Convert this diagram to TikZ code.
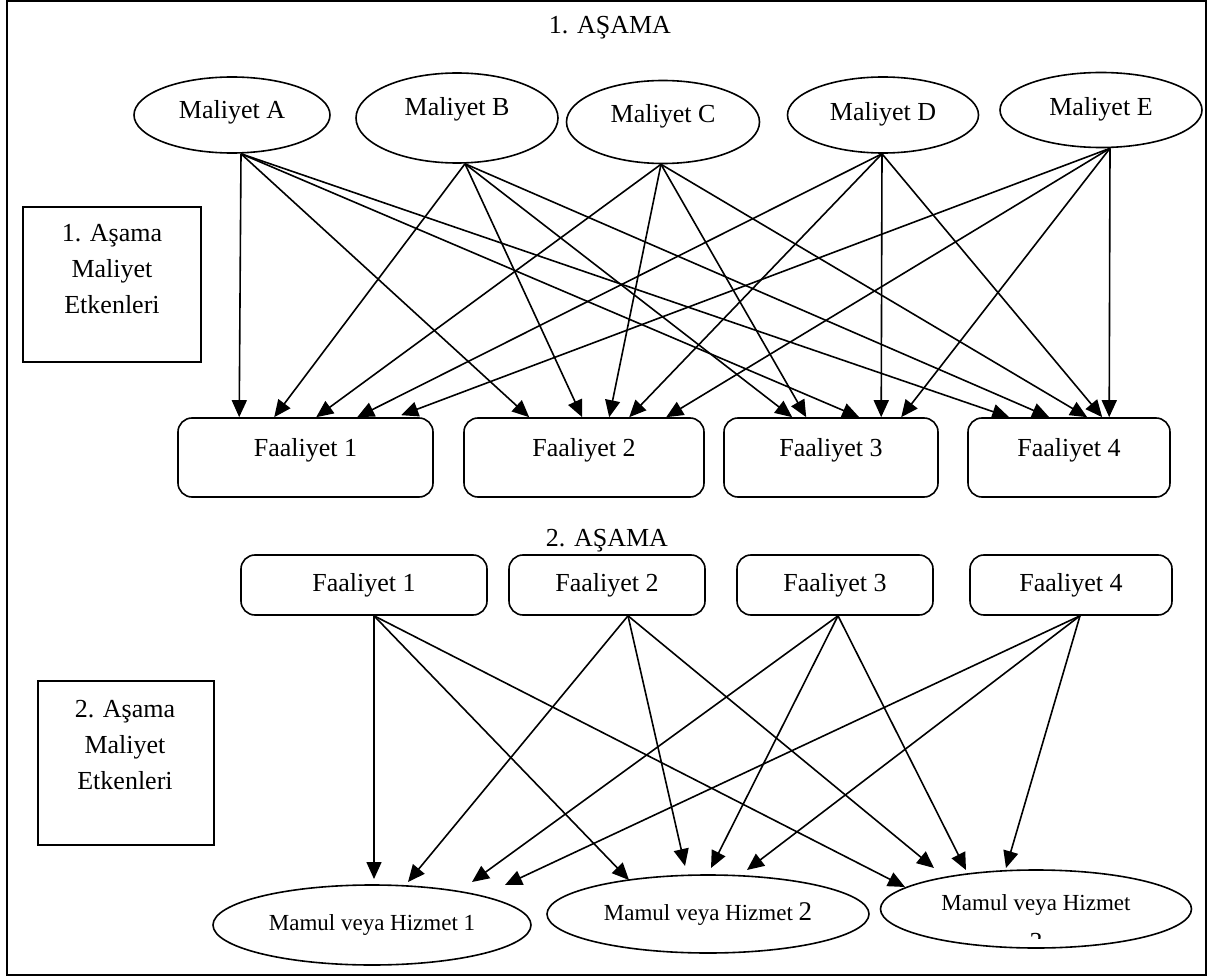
\documentclass[tikz,border=0pt]{standalone}
\usepackage{fontspec}
\setmainfont{Liberation Serif}
\usetikzlibrary{arrows.meta,calc,shapes.geometric}

\begin{document}
\begin{tikzpicture}[x=0.5pt,y=-0.5pt,
  font=\fontsize{13}{18}\selectfont,
  cost/.style={draw, ellipse, line width=0.8pt, inner sep=0pt, text height=9pt},
  act/.style={draw, rounded corners=7pt, line width=0.8pt, inner sep=0pt},
  prod/.style={draw, ellipse, line width=0.8pt, inner sep=0pt, font=\fontsize{11.5}{18}\selectfont},
  note/.style={draw, line width=0.8pt, inner sep=0pt},
  lbl/.style={inner sep=0pt, align=center},
  flow/.style={-{Triangle[length=8.5pt,width=7.5pt]}, line width=0.8pt},
]
\useasboundingbox (0,0) rectangle (1222,979);

% outer frame
\draw[line width=1pt] (7,1.5) rectangle (1206,975);

% ---------- stage 1 ----------
\node[lbl] (t1) at (610,28) {1. AŞAMA};

\node[cost, minimum width=98pt,   minimum height=38pt,   text depth=5pt]  (mA) at (232,115) {Maliyet A};
\node[cost, minimum width=101pt,  minimum height=45pt,   text depth=11pt] (mB) at (457,118) {Maliyet B};
\node[cost, minimum width=96.5pt, minimum height=41.5pt, text depth=8pt]  (mC) at (663,122) {Maliyet C};
\node[cost, minimum width=95.5pt, minimum height=38pt,   text depth=3pt]  (mD) at (883,115) {Maliyet D};
\node[cost, minimum width=101pt,  minimum height=37.5pt, text depth=3pt]  (mE) at (1101,110) {Maliyet E};

\node[note, minimum width=89pt, minimum height=77.5pt] (n1) at (112,284.5) {};
\node[lbl] (n1t) at (112,269) {1. Aşama\\Maliyet\\Etkenleri};

% activity boxes, text sits in the upper part of each box
\node[act, minimum width=127.5pt, text height=20.25pt, text depth=19.25pt] (f1) at (305.5,457.5) {};
\node[act, minimum width=120pt,   text height=20.25pt, text depth=19.25pt] (f2) at (584,457.5) {};
\node[act, minimum width=107pt,   text height=20.25pt, text depth=19.25pt] (f3) at (831,457.5) {};
\node[act, minimum width=101pt,   text height=20.25pt, text depth=19.25pt] (f4) at (1069,457.5) {};
\node[lbl] (f1t) at (305.5,450) {Faaliyet 1};
\node[lbl] (f2t) at (584,450) {Faaliyet 2};
\node[lbl] (f3t) at (831,450) {Faaliyet 3};
\node[lbl] (f4t) at (1069,450) {Faaliyet 4};

% cost A
\draw[flow] ($(mA.south)+(9,0)$) -- ($(f1.north west)+(62,0)$);
\draw[flow] ($(mA.south)+(9,0)$) -- ($(f2.north west)+(66,0)$);
\draw[flow] ($(mA.south)+(9,0)$) -- ($(f3.north west)+(136,0)$);
\draw[flow] ($(mA.south)+(9,0)$) -- ($(f4.north west)+(42,0)$);
% cost B
\draw[flow] ($(mB.south)+(8,0)$) -- ($(f1.north west)+(97,0)$);
\draw[flow] ($(mB.south)+(8,0)$) -- ($(f2.north west)+(119,0)$);
\draw[flow] ($(mB.south)+(8,0)$) -- ($(f3.north west)+(69,0)$);
\draw[flow] ($(mB.south)+(8,0)$) -- ($(f4.north west)+(82,0)$);
% cost C
\draw[flow] ($(mC.south)+(-2,0)$) -- ($(f1.north west)+(139,0)$);
\draw[flow] ($(mC.south)+(-2,0)$) -- ($(f2.north west)+(146,0)$);
\draw[flow] ($(mC.south)+(-2,0)$) -- ($(f3.north west)+(83,0)$);
\draw[flow] ($(mC.south)+(-2,0)$) -- ($(f4.north west)+(120,0)$);
% cost D
\draw[flow] ($(mD.south)+(-1,0)$) -- ($(f1.north west)+(180,0)$);
\draw[flow] ($(mD.south)+(-1,0)$) -- ($(f2.north west)+(166,0)$);
\draw[flow] ($(mD.south)+(-1,0)$) -- ($(f3.north west)+(158,0)$);
\draw[flow] ($(mD.south)+(-1,0)$) -- ($(f4.north west)+(135,0)$);
% cost E
\draw[flow] ($(mE.south)+(9,0)$) -- ($(f1.north west)+(224,-2)$);
\draw[flow] ($(mE.south)+(9,0)$) -- ($(f2.north west)+(203,0)$);
\draw[flow] ($(mE.south)+(9,0)$) -- ($(f3.north west)+(178,0)$);
\draw[flow] ($(mE.south)+(9,0)$) -- ($(f4.north west)+(142,0)$);

% ---------- stage 2 ----------
\node[lbl] (t2) at (607,541) {2. AŞAMA};

\node[act, minimum width=123pt, minimum height=30pt] (g1) at (364,585) {Faaliyet 1};
\node[act, minimum width=98pt,  minimum height=30pt] (g2) at (607,585) {Faaliyet 2};
\node[act, minimum width=98pt,  minimum height=30pt] (g3) at (835,585) {Faaliyet 3};
\node[act, minimum width=101pt, minimum height=30pt] (g4) at (1071,585) {Faaliyet 4};

\node[note, minimum width=88pt, minimum height=82pt] (n2) at (126,763) {};
\node[lbl] (n2t) at (125,745) {2. Aşama\\Maliyet\\Etkenleri};

\node[prod, minimum width=159pt,   minimum height=40pt] (p1) at (372,925) {Mamul veya Hizmet 1};
\node[prod, minimum width=161pt,   minimum height=39pt] (p2) at (708,914) {Mamul veya Hizmet {\fontsize{13.5}{18}\selectfont 2}};
\node[prod, minimum width=155.5pt, minimum height=39pt] (p3) at (1036,909) {};
\node[lbl, font=\fontsize{11.5}{18}\selectfont] (p3t) at (1036,905) {Mamul veya Hizmet};
% second text line of the third product, cut off by its frame
\begin{scope}
  \clip (1000,929) rectangle (1075,938);
  \node[lbl] (p3n) at (1036,942) {3};
\end{scope}

% activity 1
\draw[flow] ($(g1.south)+(10,0)$) -- ($(p1.center)+(2,-46)$);
\draw[flow] ($(g1.south)+(10,0)$) -- ($(p2.center)+(-79,-34)$);
\draw[flow] ($(g1.south)+(10,0)$) -- ($(p3.center)+(-131,-22)$);
% activity 2
\draw[flow] ($(g2.south)+(21,0)$) -- ($(p1.center)+(36,-43)$);
\draw[flow] ($(g2.south)+(21,0)$) -- ($(p2.center)+(-23,-48)$);
\draw[flow] ($(g2.south)+(21,0)$) -- ($(p3.center)+(-102,-41)$);
% activity 3
\draw[flow] ($(g3.south)+(3,0)$) -- ($(p1.center)+(100,-43)$);
\draw[flow] ($(g3.south)+(3,0)$) -- ($(p2.center)+(3,-46)$);
\draw[flow] ($(g3.south)+(3,0)$) -- ($(p3.center)+(-70,-39)$);
% activity 4
\draw[flow] ($(g4.south)+(9,0)$) -- ($(p1.center)+(133,-40)$);
\draw[flow] ($(g4.south)+(9,0)$) -- ($(p2.center)+(39,-44)$);
\draw[flow] ($(g4.south)+(9,0)$) -- ($(p3.center)+(-30,-41)$);
\end{tikzpicture}
\end{document}
